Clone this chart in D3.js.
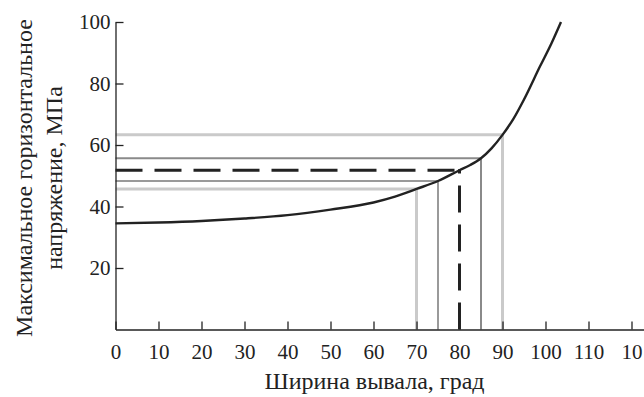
<!DOCTYPE html>
<html>
<head>
<meta charset="utf-8">
<script src="https://cdn.jsdelivr.net/npm/d3@7"></script>
</head>
<body style="margin:0;background:#fff">
<svg width="644" height="397"></svg>
<script>
// curve
const curveX = [0, 10, 20, 30, 40, 50, 60, 65, 70, 75, 80, 82.5, 85, 87.5, 90, 92.5, 95, 98.7, 101.4, 103.6];
const curveY = [34.5, 34.8, 35.3, 36.1, 37.2, 39.0, 41.3, 43.2, 45.7, 48.3, 51.8, 53.5, 55.7, 59.0, 63.3, 68.4, 74.8, 85.5, 93.1, 100];

// guide lines: collapse width and the stress it gives
const markX = [70, 75, 80, 85, 90];
const markY = [45.7, 48.3, 51.8, 55.7, 63.3];

const xTicks = [0, 10, 20, 30, 40, 50, 60, 70, 80, 90, 100, 110, 120];
const xTickLabels = ["0", "10", "20", "30", "40", "50", "60", "70", "80", "90", "100", "110", "10"];
const yTicks = [20, 40, 60, 80, 100];

const markStyle = [
  { stroke: "#cacaca", width: 3, dash: null },
  { stroke: "#9a9a9a", width: 2, dash: null },
  { stroke: "#222", width: 3, dash: "27 12" },
  { stroke: "#8a8a8a", width: 2, dash: null },
  { stroke: "#cacaca", width: 3, dash: null }
];

const font = "'Liberation Serif', 'Times New Roman', serif";
const svg = d3.select("svg");
const x = d3.scaleLinear().domain([0, 123]).range([115.5, 644.4]);
const y = d3.scaleLinear().domain([0, 100]).range([329.5, 22]);

// guides
const g = svg.append("g");
markX.forEach((mx, i) => {
  const s = markStyle[i];
  g.append("line")
    .attr("x1", x(0)).attr("x2", x(mx))
    .attr("y1", y(markY[i])).attr("y2", y(markY[i]))
    .attr("stroke", s.stroke).attr("stroke-width", s.width)
    .attr("stroke-dasharray", s.dash);
  g.append("line")
    .attr("x1", x(mx)).attr("x2", x(mx))
    .attr("y1", y(0)).attr("y2", y(markY[i]) - 1)
    .attr("stroke", s.stroke).attr("stroke-width", s.width)
    .attr("stroke-dasharray", s.dash);
});

function styleAxis(a) {
  a.attr("font-family", null).attr("font-size", null);
  a.selectAll("path, line").attr("stroke", "#222").attr("stroke-width", 1.3);
  a.selectAll("text").attr("fill", "#222")
    .style("font-family", font, "important")
    .style("font-size", "21px", "important");
}

// axes
svg.append("g")
  .attr("transform", `translate(0,${y(0)})`)
  .call(d3.axisBottom(x).tickValues(xTicks).tickSizeInner(-8).tickSizeOuter(0).tickPadding(15)
    .tickFormat((d, i) => xTickLabels[i]))
  .call(styleAxis);

svg.append("g")
  .attr("transform", `translate(${x(0)},0)`)
  .call(d3.axisLeft(y).tickValues(yTicks).tickSizeInner(-8).tickSizeOuter(0).tickPadding(5))
  .call(styleAxis);

// curve
const pts = curveX.map((d, i) => [d, curveY[i]]);
svg.append("path")
  .datum(pts)
  .attr("fill", "none")
  .attr("stroke", "#222")
  .attr("stroke-width", 2.4)
  .attr("d", d3.line().x(d => x(d[0])).y(d => y(d[1])).curve(d3.curveMonotoneX));

// titles
const titles = [
  { t: "Ширина вывала, град", tr: "translate(374.5,389)" },
  { t: "Максимальное горизонтальное", tr: "translate(32,178) rotate(-90)" },
  { t: "напряжение, МПа", tr: "translate(62,178) rotate(-90)" }
];
titles.forEach(d => {
  svg.append("text")
    .attr("transform", d.tr)
    .attr("text-anchor", "middle")
    .attr("fill", "#222")
    .style("font-family", font, "important")
    .style("font-size", "24px", "important")
    .text(d.t);
});
</script>
</body>
</html>
